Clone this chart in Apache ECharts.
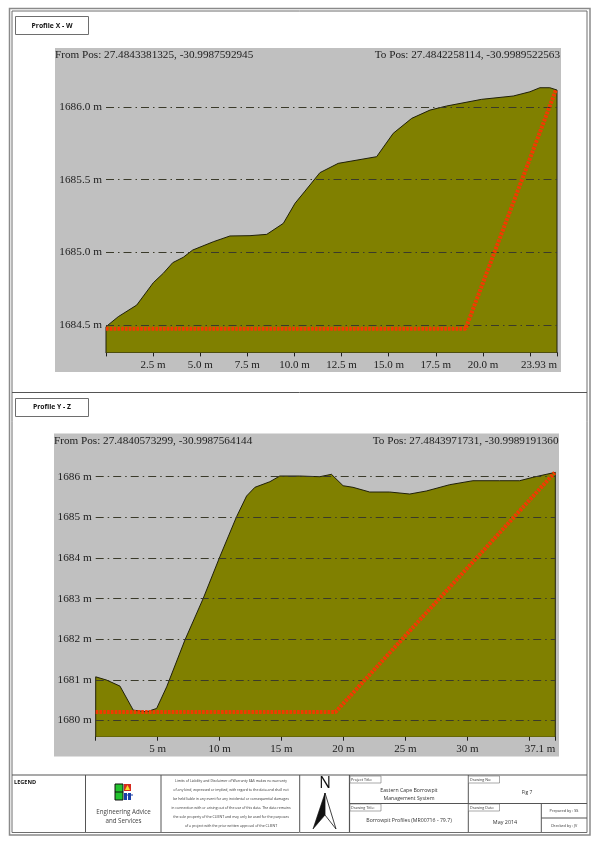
<!DOCTYPE html>
<html>
<head>
<meta charset="utf-8">
<title>Borrowpit Profiles</title>
<style>
  html, body { margin: 0; padding: 0; background: #fff; }
  #chart { width: 601px; height: 851px; }
</style>
<script src="https://cdn.jsdelivr.net/npm/echarts@6/dist/echarts.min.js"></script>
</head>
<body>
<div id="chart"></div>
<script>
// profile X - W, [distance m, elevation m]
const profileXW = [
  [0, 1684.31], [0, 1684.487], [0.65, 1684.556], [1.63, 1684.636], [2.51, 1684.79], [3.04, 1684.855],
  [3.54, 1684.928], [4.10, 1684.965], [4.60, 1685.015], [5.69, 1685.072], [6.58, 1685.112],
  [7.64, 1685.114], [8.53, 1685.123], [9.41, 1685.199], [10.03, 1685.337], [10.56, 1685.421],
  [11.35, 1685.548], [12.32, 1685.612], [14.36, 1685.658], [15.24, 1685.819], [16.22, 1685.922],
  [17.19, 1685.979], [18.07, 1686.007], [19.93, 1686.053], [21.61, 1686.076], [22.49, 1686.105],
  [23.02, 1686.133], [23.55, 1686.133], [23.93, 1686.117], [23.93, 1684.31]
];
const designXW = [[0, 1684.473], [19.08, 1684.473], [23.87, 1686.117]];
const yTicksXW = [1684.5, 1685, 1685.5, 1686];
const xTicksXW = [0, 2.5, 5, 7.5, 10, 12.5, 15, 17.5, 20, 22.5, 23.93];
const xLabelsXW = [2.5, 5, 7.5, 10, 12.5, 15, 17.5, 20, 23.93];

// profile Y - Z
const profileYZ = [
  [0, 1679.6], [0, 1681.074], [0.89, 1680.993], [1.96, 1680.845], [3.03, 1680.254], [4.11, 1680.212],
  [4.92, 1680.296], [5.73, 1680.828], [7.20, 1681.978], [8.68, 1683.005], [10.02, 1684.03],
  [11.37, 1685.015], [12.18, 1685.525], [12.85, 1685.739], [14.06, 1685.877], [14.86, 1686.017],
  [16.48, 1686.017], [18.09, 1686.0], [19.03, 1686.059], [19.97, 1685.778], [20.77, 1685.739],
  [22.12, 1685.623], [23.73, 1685.623], [25.35, 1685.574], [26.69, 1685.648], [28.57, 1685.803],
  [30.45, 1685.901], [32.6, 1685.901], [34.22, 1685.901], [35.29, 1685.985], [37.1, 1686.108], [37.1, 1679.6]
];
const designYZ = [[0, 1680.205], [19.35, 1680.205], [37.05, 1686.1]];
const yTicksYZ = [1680, 1681, 1682, 1683, 1684, 1685, 1686];
const xTicksYZ = [0, 5, 10, 15, 20, 25, 30, 35, 37.1];
const xLabelsYZ = [5, 10, 15, 20, 25, 30, 37.1];

const SERIF = '"Liberation Serif", serif';
const SANS = '"Open Sans", "Noto Sans", sans-serif';
const INK = '#6e6e6e';

const disclaimer = [
  'Limits of Liability and Disclaimer of Warranty EAS makes no warranty',
  'of any kind, expressed or implied, with regard to the data and shall not',
  'be held liable in any event for any incidental or consequential damages',
  'in connection with or arising out of the use of this data. The data remains',
  'the sole property of the CLIENT and may only be used for the purposes',
  'of a project with the prior written approval of the CLIENT'
];

function rect(x, y, w, h, fill, stroke, lineWidth, z) {
  return {
    type: 'rect', z: z === undefined ? 20 : z, silent: true,
    shape: { x: x, y: y, width: w, height: h },
    style: { fill: fill || 'transparent', stroke: stroke || null, lineWidth: lineWidth || 1 }
  };
}
function line(x1, y1, x2, y2, width, color) {
  return {
    type: 'line', z: 20, silent: true,
    shape: { x1: x1, y1: y1, x2: x2, y2: y2 },
    style: { stroke: color || '#555', lineWidth: width || 1 }
  };
}
function label(text, x, y, size, opts) {
  opts = opts || {};
  return {
    type: 'text', z: 21, silent: true, x: x, y: y,
    style: {
      text: text, fill: opts.color || '#333',
      font: (opts.bold ? 'bold ' : '') + size + 'px ' + SANS,
      textAlign: opts.align || 'center', textVerticalAlign: 'middle'
    }
  };
}

const frame = [
  rect(55, 48, 506, 324, '#c0c0c0', null, 0, -1),
  rect(54, 433.5, 505, 323, '#c0c0c0', null, 0, -1),
  rect(9.5, 8.5, 580.5, 826.5, null, '#8a8a8a', 1.5),
  rect(12, 11, 575, 821.5, null, INK, 1),
  line(12, 392.5, 587, 392.5, 1),
  line(12, 775, 587, 775, 1.2),
  line(85.5, 775, 85.5, 832, 1),
  line(161, 775, 161, 832, 1),
  line(299.7, 775, 299.7, 832, 1),
  line(349.5, 775, 349.5, 832, 1.2),
  line(468.3, 775, 468.3, 832, 1),
  line(349.5, 803.5, 587, 803.5, 1.2),
  line(541.3, 803.5, 541.3, 832, 1),
  line(541.3, 818, 587, 818, 1),
  rect(15.5, 16.5, 73, 18, '#fff', INK, 1),
  label('Profile X - W', 52, 26, 6.8, { bold: true, color: '#111' }),
  rect(15.5, 398.5, 73, 18, '#fff', INK, 1),
  label('Profile Y - Z', 52, 407.5, 6.8, { bold: true, color: '#111' }),
  label('LEGEND', 14, 782.5, 5.6, { bold: true, align: 'left', color: '#111' }),
  // logo
  rect(115, 784, 8, 16, '#22c32e', '#111', 1),
  line(115, 792, 123, 792, 1, '#111'),
  rect(124, 784, 7, 7, '#d62a1e', null, 0),
  { type: 'polygon', z: 21, silent: true, shape: { points: [[127.5, 785], [130, 790], [125, 790]] }, style: { fill: '#f4dc2a' } },
  rect(124, 793, 3, 7, '#1c3fa8', null, 0),
  rect(128, 793, 3, 7, '#1c3fa8', null, 0),
  line(124, 795, 133, 795, 1, '#1c3fa8'),
  label('Engineering Advice', 123.5, 812, 6.2, { color: '#444' }),
  label('and Services', 123.5, 821, 6.2, { color: '#444' }),
  // north arrow
  label('N', 325, 784, 15.5, { color: '#111' }),
  { type: 'polygon', z: 21, silent: true, shape: { points: [[325, 793], [313, 829], [325, 815]] }, style: { fill: '#111', stroke: '#111', lineWidth: 0.6 } },
  { type: 'polygon', z: 21, silent: true, shape: { points: [[325, 793], [336, 829], [325, 815]] }, style: { fill: '#fff', stroke: '#111', lineWidth: 0.8 } },
  // title block
  rect(350, 776, 31, 7, '#fff', INK, 0.6),
  label('Project Title:', 351, 779.7, 3.7, { align: 'left' }),
  rect(468.5, 776, 31, 7, '#fff', INK, 0.6),
  label('Drawing No:', 470, 779.7, 3.7, { align: 'left' }),
  rect(350, 804, 31, 7, '#fff', INK, 0.6),
  label('Drawing Title:', 351, 807.7, 3.7, { align: 'left' }),
  rect(468.5, 804, 31, 7, '#fff', INK, 0.6),
  label('Drawing Date:', 470, 807.7, 3.7, { align: 'left' }),
  label('Eastern Cape Borrowpit', 409, 790.5, 5.2),
  label('Management System', 409, 798.5, 5.2),
  label('Fig 7', 527, 792.5, 5),
  label('Borrowpit Profiles (MR00716 - 79.7)', 409, 821, 5.2),
  label('May 2014', 505, 822, 5.4),
  label('Prepared by : SS', 564, 811, 3.8),
  label('Checked by : JV', 564, 826, 3.8)
].concat(disclaimer.map(function (t, i) {
  return label(t, 231, 780.7 + i * 9.05, 3.5);
}));

function profileTitle(text, side, offset, top) {
  const t = {
    text: text, top: top, padding: 0,
    textStyle: { fontFamily: SERIF, fontSize: 11.2, fontWeight: 'normal', color: '#1c1c1c' }
  };
  t[side] = offset;
  return t;
}

function makeX(index, max, ticks, labels, fmt) {
  return {
    gridIndex: index, type: 'value', min: 0, max: max,
    axisLine: { show: true, lineStyle: { color: '#1d1d1d', width: 1 } },
    axisTick: { show: true, length: 4, customValues: ticks, lineStyle: { color: '#1d1d1d' } },
    axisLabel: {
      margin: 7, customValues: labels, alignMaxLabel: 'right',
      fontFamily: SERIF, fontSize: 11, color: '#1c1c1c',
      formatter: fmt
    },
    splitLine: { show: false }
  };
}

function makeY(index, min, max, ticks, fmt) {
  return {
    gridIndex: index, type: 'value', min: min, max: max, z: 5,
    axisLine: { show: false },
    axisTick: { show: false, customValues: ticks },
    axisLabel: {
      margin: 4, customValues: ticks,
      fontFamily: SERIF, fontSize: 11.3, color: '#1c1c1c',
      formatter: fmt
    },
    splitLine: { show: true, lineStyle: { color: '#3a3a2a', width: 1, type: [8, 4, 1.5, 4] } }
  };
}

function ground(index, data) {
  return {
    type: 'line', xAxisIndex: index, yAxisIndex: index, data: data, showSymbol: false, z: 2,
    lineStyle: { color: '#20200a', width: 1 },
    itemStyle: { color: '#20200a' },
    areaStyle: { color: '#808000', opacity: 1, origin: 'start' }
  };
}

function design(index, data) {
  return {
    type: 'line', xAxisIndex: index, yAxisIndex: index, data: data, showSymbol: false, z: 8,
    lineStyle: { color: '#f23a00', width: 4, type: [2.6, 1.2] },
    itemStyle: { color: '#f23a00' }
  };
}

const chart = echarts.init(document.getElementById('chart'), null, { renderer: 'canvas' });
chart.setOption({
  animation: false,
  backgroundColor: '#fff',
  title: [
    profileTitle('From Pos: 27.4843381325, -30.9987592945', 'left', 55, 50),
    profileTitle('To Pos: 27.4842258114, -30.9989522563', 'right', 41, 50),
    profileTitle('From Pos: 27.4840573299, -30.9987564144', 'left', 54, 435.5),
    profileTitle('To Pos: 27.4843971731, -30.9989191360', 'right', 42.5, 435.5)
  ],
  grid: [
    { left: 106, width: 451, top: 78, height: 274.4 },
    { left: 95.7, width: 459.6, top: 456.4, height: 280.3 }
  ],
  xAxis: [
    makeX(0, 23.93, xTicksXW, xLabelsXW, function (v) { return (v === 23.93 ? v : v.toFixed(1)) + ' m'; }),
    makeX(1, 37.1, xTicksYZ, xLabelsYZ, function (v) { return v + ' m'; })
  ],
  yAxis: [
    makeY(0, 1684.31, 1686.2, yTicksXW, function (v) { return v.toFixed(1) + ' m'; }),
    makeY(1, 1679.6, 1686.5, yTicksYZ, function (v) { return v + ' m'; })
  ],
  series: [ground(0, profileXW), design(0, designXW), ground(1, profileYZ), design(1, designYZ)],
  graphic: { elements: frame }
});
</script>
</body>
</html>
